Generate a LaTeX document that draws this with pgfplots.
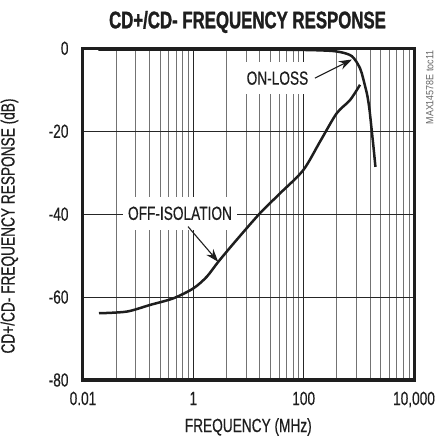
\documentclass[border=0pt]{standalone}
\usepackage{pgfplots}
\pgfplotsset{compat=1.18}
\usetikzlibrary{arrows.meta}
\usepackage{fontspec}
\setmainfont{Liberation Sans}[FakeStretch=0.72, FakeBold=0.4]
\newfontfamily\titlefont{Liberation Sans}[FakeStretch=0.70, FakeBold=1.2]
\newfontfamily\smallfont{Liberation Sans}[FakeStretch=0.85]
\definecolor{txt}{HTML}{1E1E1E}
\begin{document}
\begin{tikzpicture}
\useasboundingbox (0,0) rectangle (439bp,440bp);
\begin{axis}[
  at={(83bp,60bp)}, anchor=south west,
  scale only axis, width=331bp, height=331.7bp,
  xmode=log, xmin=0.01, xmax=10000, ymin=-80, ymax=0,
  xtick={0.01,1,100,10000}, xticklabels={0.01,1,100,{10,000}},
  minor xtick={0.04,0.09,0.16,0.25,0.36,0.49,0.64,0.81,4,9,16,25,36,49,64,81,400,900,1600,2500,3600,4900,6400,8100},
  ytick={-80,-60,-40,-20,0}, yticklabels={-80,-60,-40,-20,0},
  xmajorgrids, xminorgrids, ymajorgrids,
  major grid style={line width=1.1bp, color=black!85},
  minor grid style={line width=0.9bp, color=black!55},
  axis line style={line width=3bp, color=txt},
  major tick length=0pt, minor tick length=0pt,
  /pgf/number format/assume math mode=true,
  tick label style={font=\fontsize{19bp}{21bp}\selectfont, text=txt},
  yticklabel style={xshift=-11bp},
  xticklabel style={anchor=base, yshift=-25bp},
]
\addplot[line width=2.5bp, color=txt, smooth, tension=0.5] coordinates {
  (0.019,-0.3) (10,-0.3) (100,-0.4) (300,-0.6) (455,-0.9) (600,-1.3)
  (750,-1.9) (900,-3.2) (1050,-4.8) (1130,-6.0) (1280,-8.8) (1420,-11.3)
  (1550,-14.5) (1710,-19.7) (1850,-24.0) (2000,-28.6)
};
\addplot[line width=2.5bp, color=txt, smooth, tension=0.5] coordinates {
  (0.0195,-63.9) (0.062,-63.5) (0.164,-61.9) (0.434,-60.3) (1.0,-57.9)
  (1.75,-55.1) (2.83,-51.5) (6.1,-46.2) (16.1,-39.8) (37.2,-35.0)
  (98,-29.4) (200,-22.4) (396,-15.7) (692,-12.5) (1050,-8.8)
};
\node[fill=white, inner xsep=5bp, inner ysep=9bp, text=txt, font=\fontsize{19bp}{21bp}\selectfont] at (axis cs:33.5,-7.2) {ON-LOSS};
\node[fill=white, inner xsep=5bp, inner ysep=10bp, text=txt, font=\fontsize{19bp}{21bp}\selectfont] at (axis cs:0.573,-39.8) {OFF-ISOLATION};
\draw[line width=1.1bp, color=txt, -{Stealth[length=13bp,width=9bp]}] (axis cs:160,-7.2) -- (axis cs:751,-2.7);
\draw[line width=1.1bp, color=txt, -{Stealth[length=13bp,width=9bp]}] (axis cs:0.80,-43.0) -- (axis cs:2.83,-51.5);
\end{axis}
\node[anchor=base, text=txt, font=\titlefont\bfseries\fontsize{24bp}{27bp}\selectfont] at (247.5bp,411.7bp) {CD+/CD- FREQUENCY RESPONSE};
\node[anchor=base, text=txt, font=\fontsize{19bp}{21bp}\selectfont] at (248.3bp,8bp) {FREQUENCY (MHz)};
\node[anchor=base, rotate=90, text=txt, font=\fontsize{19bp}{21bp}\selectfont] at (14.5bp,214bp) {CD+/CD- FREQUENCY RESPONSE (dB)};
\node[anchor=base, rotate=90, text=black!60, font=\smallfont\fontsize{10.5bp}{12bp}\selectfont] at (433.3bp,352.5bp) {MAX14578E toc11};
\end{tikzpicture}
\end{document}
